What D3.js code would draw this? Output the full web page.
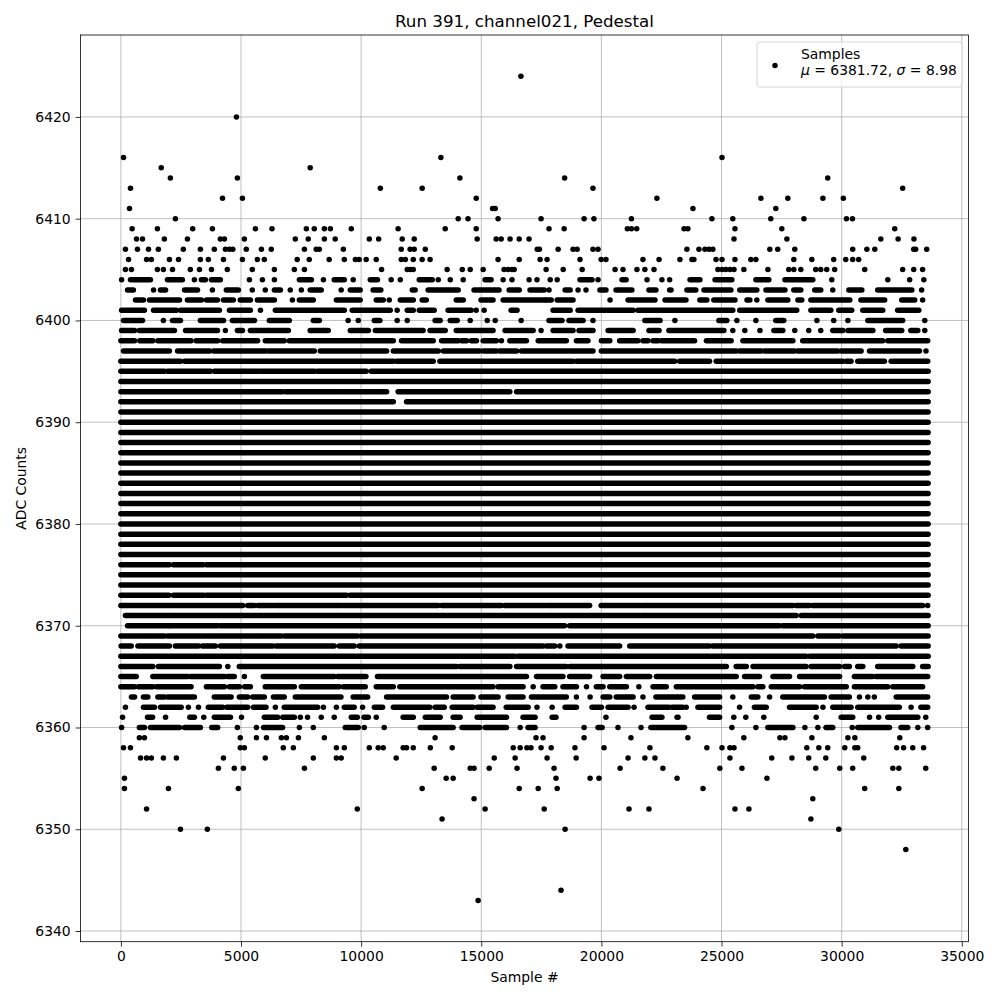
<!DOCTYPE html>
<html>
<head>
<meta charset="utf-8">
<script src="https://cdn.jsdelivr.net/npm/d3@7"></script>
<style>
  body { margin: 0; background: #fff; }
  svg { font-family: "DejaVu Sans", sans-serif; }
</style>
</head>
<body>
<div id="chart"></div>
<script>
// ---- data (sample index in thousands, ADC counts) ----
var nSamples = 33.6;
var title = "Run 391, channel021, Pedestal";
var xTicks = [0, 5000, 10000, 15000, 20000, 25000, 30000, 35000];
var yTicks = [6340, 6350, 6360, 6370, 6380, 6390, 6400, 6410, 6420];
var stats = {mu: "6381.72", sigma: "8.98"};

// levels that are filled across the whole run
var fullRows = [6375, 6377, 6378, 6379, 6380, 6381, 6382, 6383, 6384, 6385, 6386, 6387, 6388, 6389, 6390, 6391, 6394];

// levels that are mostly filled but broken up: [adc, [[from, to], ...]]
var brokenRows = [
  [6404, [[0.03,0.03],[0.40,1.23],[1.94,2.56],[3.06,3.06],[3.35,3.52],[3.77,4.14],[5.35,5.35],[5.89,5.89],[6.39,6.39],[7.43,7.93],[8.43,8.43],[8.88,9.30],[9.67,9.67],[10.38,10.68],[11.25,11.25],[11.63,11.63],[12.42,12.96],[13.21,13.21],[13.71,13.71],[14.25,14.25],[15.16,15.41],[15.91,15.91],[16.28,16.28],[16.99,16.99],[17.32,17.32],[17.87,17.87],[18.16,18.16],[19.11,19.61],[19.86,19.86],[20.86,21.03],[21.90,21.90],[22.52,22.52],[22.84,22.84],[23.69,24.10],[24.73,25.43],[26.43,26.97],[27.64,28.80],[29.59,29.59],[31.92,31.92],[32.83,32.83],[33.42,33.42]]],
  [6403, [[0.28,0.52],[1.36,1.36],[1.65,1.86],[2.65,3.19],[3.81,3.81],[4.39,4.89],[5.47,5.47],[6.01,6.01],[6.39,6.64],[7.05,7.05],[7.51,7.51],[7.88,8.34],[9.17,9.17],[9.55,9.96],[10.50,10.82],[12.13,12.25],[12.79,14.04],[14.70,15.74],[16.16,16.58],[17.03,17.62],[17.82,17.82],[18.49,18.70],[19.03,19.03],[19.36,19.36],[19.94,20.19],[20.61,21.27],[21.98,22.27],[22.84,22.90],[23.56,23.93],[24.27,25.39],[25.76,26.47],[26.85,27.64],[28.01,28.30],[28.88,29.13],[29.63,29.63],[30.30,30.84],[31.50,32.92],[33.33,33.33]]],
  [6402, [[0.61,0.94],[1.19,2.44],[2.77,3.35],[3.56,4.02],[4.27,4.68],[4.97,5.39],[5.68,6.39],[7.14,7.14],[7.43,8.01],[8.97,9.96],[10.63,10.92],[11.17,11.17],[11.63,12.17],[12.54,12.71],[13.96,14.25],[14.99,15.49],[15.91,17.66],[17.70,17.91],[18.16,18.82],[20.36,20.36],[21.11,22.23],[22.65,23.52],[24.10,24.39],[24.68,25.56],[26.06,26.18],[26.47,26.47],[26.93,27.76],[28.18,28.34],[28.72,30.34],[30.80,31.79],[32.50,33.04],[33.37,33.37]]],
  [6401, [[0.03,0.98],[1.36,2.31],[2.48,4.10],[4.52,5.39],[5.81,5.81],[6.43,8.17],[8.26,9.30],[9.63,11.21],[11.50,11.50],[11.92,12.17],[12.42,13.04],[13.62,14.58],[14.79,14.79],[15.12,15.12],[16.24,16.49],[17.99,18.70],[19.03,20.19],[20.28,21.32],[21.52,25.47],[25.76,28.13],[28.72,29.55],[29.88,30.42],[30.88,31.71],[32.33,33.21]]],
  [6400, [[0.11,0.90],[1.77,1.77],[2.15,2.48],[3.31,4.27],[4.64,5.56],[6.18,7.01],[8.01,8.26],[9.46,9.46],[9.88,9.88],[10.55,10.78],[11.50,11.50],[11.92,11.92],[13.08,13.29],[13.71,14.00],[14.54,14.54],[15.25,15.25],[15.58,15.58],[16.66,16.66],[17.82,18.36],[18.65,19.24],[19.65,19.65],[21.81,22.44],[23.06,23.06],[24.89,25.22],[25.64,25.64],[26.43,26.43],[27.26,27.59],[28.97,28.97],[29.67,29.67],[30.26,30.26],[31.09,32.54],[33.46,33.46]]],
  [6399, [[0.03,0.57],[0.77,2.23],[2.69,4.02],[4.35,4.35],[4.85,5.06],[5.39,6.97],[7.88,8.63],[9.55,10.30],[10.59,12.58],[12.87,13.50],[13.96,15.49],[15.99,17.16],[17.49,17.49],[17.99,18.82],[19.07,19.65],[20.28,21.32],[21.98,22.40],[22.81,25.10],[25.47,25.47],[25.97,25.97],[26.60,26.60],[27.18,27.55],[28.05,28.05],[28.63,28.63],[29.13,29.13],[29.63,30.05],[30.26,31.30],[31.83,32.50],[32.88,33.17],[33.46,33.46]]],
  [6398, [[0.0,0.57],[0.79,1.33],[1.54,2.92],[3.13,4.03],[4.24,5.69],[6.01,6.80],[7.01,9.02],[9.09,11.34],[11.68,13.00],[13.35,14.04],[14.18,14.39],[14.59,14.80],[15.08,15.63],[15.84,15.84],[16.19,16.88],[17.37,18.54],[18.96,19.44],[20.00,20.35],[20.76,21.52],[21.73,21.94],[22.15,22.36],[22.50,23.88],[24.37,25.40],[25.89,27.97],[28.38,31.71],[31.92,33.58]]],
  [6397, [[0.11,2.02],[2.36,3.69],[3.85,6.03],[6.15,8.05],[8.30,11.06],[11.34,13.21],[13.42,14.94],[15.08,15.63],[15.77,16.47],[16.67,19.65],[20.00,25.61],[25.75,26.65],[26.79,28.04],[28.18,29.84],[29.98,30.81],[31.16,33.24],[33.51,33.51]]],
  [6396, [[0.0,2.48],[2.65,4.56],[4.64,10.13],[10.21,11.34],[11.48,13.00],[13.28,18.82],[18.96,23.05],[23.26,24.50],[24.78,30.05],[30.19,30.39],[30.67,31.78],[32.06,33.58]]],
  [6395, [[0.0,1.81],[1.94,3.73],[3.89,5.76],[5.85,8.05],[8.17,10.21],[10.42,33.6]]],
  [6393, [[0.0,6.72],[6.84,9.05],[9.13,10.30],[10.38,11.06],[11.54,16.19],[16.47,33.6]]],
  [6392, [[0.0,0.30],[0.38,11.34],[11.89,33.6]]],
  [6376, [[0.0,2.02],[2.19,3.43],[3.56,33.6]]],
  [6374, [[0.0,4.14],[4.22,33.6]]],
  [6373, [[0.0,2.00],[2.19,3.45],[3.56,9.39],[9.54,33.6]]],
  [6372, [[0,0.50],[0.57,2.16],[2.23,5.07],[5.28,5.56],[5.70,6.32],[6.39,9.16],[9.23,13.21],[13.35,15.84],[15.98,17.64],[17.71,19.51],[19.99,21.59],[21.66,27.97],[28.11,28.66],[28.80,33.37],[33.58,33.58]]],
  [6371, [[0.19,28.11],[28.32,33.6]]],
  [6370, [[0.28,2.02],[2.06,4.03],[4.14,9.23],[9.30,14.73],[14.80,18.47],[18.68,25.75],[25.82,27.41],[27.55,33.6]]],
  [6369, [[0,1.00],[1.07,1.81],[1.94,3.52],[3.62,5.69],[5.76,6.67],[6.80,9.85],[9.99,28.80],[29.01,29.91],[30.05,33.6]]],
  [6368, [[0.01,0.43],[0.71,2.02],[2.27,3.23],[3.39,3.93],[4.14,6.32],[6.46,8.88],[9.09,9.71],[9.92,17.57],[17.71,18.06],[18.27,18.27],[18.61,20.76],[21.18,24.50],[24.64,32.27],[32.47,33.6]]],
  [6367, [[0,16.40],[16.53,28.52],[28.66,33.6]]],
  [6366, [[0,1.33],[1.56,4.10],[4.45,4.45],[4.93,13.97],[14.11,16.19],[16.47,18.54],[18.68,25.20],[25.61,26.03],[26.31,28.52],[28.73,29.91],[30.12,30.32],[30.67,30.88],[31.50,32.96],[33.37,33.6]]],
  [6365, [[0,0.64],[1.33,2.78],[2.90,4.31],[4.45,4.72],[5.14,5.14],[5.93,8.88],[9.02,10.20],[10.68,16.88],[17.30,18.40],[18.68,19.51],[20.07,20.76],[21.04,22.01],[22.29,25.61],[25.96,26.58],[27.14,27.83],[28.25,29.91],[30.53,31.29],[31.43,33.58]]],
  [6364, [[0,0.57],[0.73,1.33],[1.48,2.92],[3.56,4.31],[4.52,4.93],[5.15,5.39],[6.01,7.22],[7.51,9.09],[9.26,10.17],[10.63,11.34],[11.61,15.49],[15.70,16.74],[17.16,17.16],[17.57,18.06],[18.40,18.96],[19.38,19.38],[19.79,20.07],[20.35,21.04],[21.56,21.56],[22.15,22.70],[23.12,26.31],[26.51,26.72],[27.07,28.25],[28.45,30.19],[30.53,31.92],[32.13,33.37]]],
  [6363, [[0.44,0.57],[0.94,1.12],[1.54,1.81],[1.95,3.06],[3.89,4.59],[4.93,5.28],[5.49,5.97],[6.35,6.80],[7.26,9.16],[9.67,10.27],[11.06,13.55],[13.83,14.66],[14.99,15.70],[16.12,16.74],[17.09,18.54],[18.96,18.96],[19.53,19.53],[20.07,20.35],[20.62,21.32],[21.73,21.73],[22.27,23.39],[23.88,24.92],[25.47,25.47],[26.24,26.51],[27.00,27.00],[27.55,29.28],[29.56,30.32],[30.74,30.74],[31.09,31.09],[31.36,31.36],[32.27,33.58]]],
  [6362, [[0.19,0.19],[0.94,1.40],[1.65,2.51],[2.81,2.81],[3.23,3.23],[3.64,4.24],[4.41,5.28],[5.52,6.04],[6.43,6.43],[6.80,8.19],[8.43,8.43],[8.97,8.97],[9.30,9.71],[10.06,10.06],[10.55,10.89],[11.34,12.86],[13.08,13.46],[13.79,14.66],[14.83,15.49],[16.04,16.95],[17.32,17.32],[17.95,17.95],[18.49,18.96],[19.61,20.00],[20.28,21.11],[21.36,21.36],[21.94,22.81],[22.94,23.39],[23.53,23.53],[24.02,24.92],[25.75,25.75],[26.37,26.86],[27.83,28.94],[29.22,29.22],[29.63,30.39],[30.67,32.40],[32.89,32.89],[33.30,33.58]]],
  [6361, [[0.07,0.07],[1.11,1.32],[1.86,1.86],[2.87,3.06],[3.45,3.45],[3.89,4.56],[5.02,5.02],[5.97,6.53],[6.74,7.22],[7.47,7.47],[7.77,7.77],[8.34,8.34],[8.88,8.88],[9.59,9.84],[10.12,10.30],[10.63,10.63],[11.75,12.17],[12.67,13.29],[13.83,14.12],[14.83,16.05],[16.74,17.24],[17.95,18.11],[20.19,20.19],[22.11,22.52],[23.15,23.19],[24.50,24.92],[25.51,25.51],[26.01,26.01],[26.76,26.76],[28.94,28.94],[29.98,30.46],[31.16,31.16],[31.54,31.54],[31.92,33.17],[33.50,33.50]]],
  [6360, [[0.03,0.03],[0.77,0.98],[1.23,2.44],[2.65,3.31],[3.78,4.03],[4.85,4.85],[5.64,5.64],[5.94,6.73],[7.43,7.43],[8.01,8.01],[9.34,9.88],[10.13,10.13],[10.96,10.96],[12.46,13.83],[14.20,14.94],[15.16,16.05],[16.62,16.62],[16.95,17.24],[19.28,19.28],[19.86,20.03],[20.69,20.69],[21.65,21.65],[22.06,23.46],[25.43,25.43],[26.43,26.43],[26.93,27.97],[28.47,28.47],[29.01,29.01],[29.35,29.63],[30.44,30.44],[30.67,31.99],[32.47,32.75],[33.17,33.17],[33.58,33.58]]]
];

// sparse levels: [adc, [sample, ...]]
var sparseRows = [
  [6424, [16.65]],
  [6420, [4.81]],
  [6416, [0.11, 13.32, 25.02]],
  [6415, [1.68, 7.88]],
  [6414, [2.06, 4.85, 14.11, 18.47, 29.42]],
  [6413, [0.40, 10.80, 12.54, 19.65, 32.54]],
  [6412, [4.23, 5.06, 14.79, 22.31, 26.64, 27.76, 29.22, 30.07]],
  [6411, [0.36, 15.47, 15.58, 23.81, 27.26]],
  [6410, [2.27, 14.04, 14.45, 15.70, 17.49, 19.28, 19.69, 21.25, 24.60, 25.47, 27.05, 28.43, 30.20, 30.45]],
  [6409, [0.47, 1.52, 2.99, 3.81, 5.60, 6.29, 7.72, 8.05, 8.47, 8.72, 9.59, 11.54, 13.50, 14.79, 17.82, 18.45, 21.08, 21.25, 21.47, 23.44, 23.60, 25.56, 27.51, 32.21]],
  [6408, [0.65, 0.90, 1.81, 2.77, 4.14, 4.31, 5.14, 7.26, 7.80, 8.47, 8.92, 10.34, 10.73, 11.71, 12.21, 14.83, 15.62, 15.83, 16.20, 16.58, 16.99, 25.52, 27.72, 31.63, 32.35, 33.01]],
  [6407, [0.19, 0.69, 1.15, 1.56, 2.60, 3.31, 3.89, 4.35, 4.52, 4.66, 5.22, 5.85, 6.26, 7.64, 8.13, 8.26, 9.26, 11.67, 12.04, 12.21, 12.67, 17.33, 17.42, 18.20, 18.82, 18.99, 19.65, 19.86, 23.56, 24.06, 24.31, 24.48, 24.64, 27.01, 27.34, 28.05, 30.46, 31.05, 31.38, 33.00, 33.08, 33.54]],
  [6406, [0.32, 1.07, 1.27, 2.02, 2.40, 3.31, 3.64, 4.27, 5.06, 5.68, 5.97, 7.34, 7.84, 8.67, 9.30, 9.76, 9.92, 10.21, 10.63, 11.67, 11.84, 12.17, 12.54, 12.87, 15.70, 16.58, 17.45, 17.74, 19.11, 19.99, 20.19, 21.73, 22.40, 23.27, 23.77, 23.85, 24.77, 25.02, 25.56, 26.22, 26.43, 28.01, 28.76, 29.67, 30.17, 30.46, 30.71]],
  [6405, [0.19, 0.44, 1.52, 1.77, 2.15, 2.89, 3.27, 3.77, 4.43, 5.47, 6.39, 7.22, 7.64, 10.85, 11.92, 12.04, 12.17, 13.58, 14.21, 14.54, 15.08, 15.95, 16.12, 16.28, 16.37, 17.70, 18.41, 19.20, 20.57, 20.90, 21.48, 21.81, 22.19, 24.85, 25.02, 25.18, 25.35, 25.52, 25.93, 26.93, 27.80, 28.01, 28.30, 28.92, 29.13, 29.38, 29.71, 30.96, 32.54, 33.00, 33.37]],
  [6359, [0.77, 0.98, 4.97, 5.64, 6.06, 6.68, 6.89, 7.39, 8.47, 13.08, 17.28, 17.57, 19.28, 21.23, 23.60, 25.93, 27.43, 27.64, 28.76, 30.26, 30.55, 32.42]],
  [6358, [0.11, 0.40, 4.97, 5.14, 6.76, 7.18, 8.97, 9.30, 10.34, 10.71, 10.92, 11.75, 11.89, 12.17, 12.88, 13.79, 16.33, 16.62, 16.90, 17.07, 17.49, 17.91, 18.90, 20.11, 22.02, 24.39, 25.02, 25.35, 25.52, 28.55, 29.05, 29.42, 30.13, 30.55, 30.67, 32.29, 32.58, 32.96, 33.41]],
  [6357, [0.82, 1.07, 1.27, 1.77, 2.31, 4.27, 6.01, 8.01, 8.97, 9.17, 11.46, 15.54, 16.41, 17.74, 18.95, 21.11, 21.81, 22.23, 25.35, 27.09, 27.93, 28.63, 29.34, 30.92]],
  [6356, [4.06, 4.72, 5.10, 7.64, 13.04, 14.54, 14.70, 15.33, 16.49, 18.03, 20.78, 22.56, 24.93, 25.85, 28.92, 29.92, 30.46, 32.13, 32.38, 33.50]],
  [6355, [0.15, 13.54, 13.83, 18.11, 19.53, 19.90, 23.15, 26.89]],
  [6354, [0.15, 1.98, 4.89, 12.54, 16.58, 17.37, 18.16, 24.23, 30.96, 32.38]],
  [6353, [14.70, 28.80]],
  [6352, [1.07, 9.84, 15.16, 17.62, 21.15, 21.98, 25.56, 26.14]],
  [6351, [13.37, 28.72]],
  [6350, [2.48, 3.60, 18.49, 29.88]],
  [6348, [32.67]],
  [6344, [18.32]],
  [6343, [14.87]]
];

// ---- layout ----
var W = 1000, H = 1000;
var plotL = 80.5, plotR = 968.5, plotT = 35, plotB = 941.7;
var r = 2.75; // '.' marker incl. its edge

var x = d3.scaleLinear().domain([-1680, 35280]).range([plotL, plotR]);
var y = d3.scaleLinear().domain([6338.95, 6428.05]).range([plotB, plotT]);

var svg = d3.select("#chart").append("svg")
  .attr("width", W).attr("height", H);

svg.append("rect").attr("width", W).attr("height", H).attr("fill", "#fff");

// grid
var grid = svg.append("g");
grid.selectAll(".gx").data(xTicks).enter().append("line")
  .attr("x1", function(d){return x(d)}).attr("x2", function(d){return x(d)})
  .attr("y1", plotT).attr("y2", plotB)
  .attr("stroke", "#b0b0b0").attr("stroke-width", 0.8);
grid.selectAll(".gy").data(yTicks).enter().append("line")
  .attr("x1", plotL).attr("x2", plotR)
  .attr("y1", function(d){return y(d)}).attr("y2", function(d){return y(d)})
  .attr("stroke", "#b0b0b0").attr("stroke-width", 0.8);

var plot = svg.append("g");

// full rows
plot.selectAll(".full").data(fullRows).enter().append("line")
  .attr("x1", x(0)).attr("x2", x(nSamples * 1000))
  .attr("y1", function(d){return y(d)}).attr("y2", function(d){return y(d)})
  .attr("stroke", "#000").attr("stroke-width", 2 * r).attr("stroke-linecap", "round");

// broken rows
var runs = [];
brokenRows.forEach(function(row){
  row[1].forEach(function(s){ runs.push({adc: row[0], a: s[0] * 1000, b: s[1] * 1000}); });
});
plot.selectAll(".run").data(runs).enter().append("line")
  .attr("x1", function(d){return x(d.a)}).attr("x2", function(d){return x(d.b) + 0.01})
  .attr("y1", function(d){return y(d.adc)}).attr("y2", function(d){return y(d.adc)})
  .attr("stroke", "#000").attr("stroke-width", 2 * r).attr("stroke-linecap", "round");

// sparse points
var pts = [];
sparseRows.forEach(function(row){
  row[1].forEach(function(s){ pts.push({adc: row[0], s: s * 1000}); });
});
plot.selectAll("circle").data(pts).enter().append("circle")
  .attr("cx", function(d){return x(d.s)})
  .attr("cy", function(d){return y(d.adc)})
  .attr("r", r).attr("fill", "#000");

// axes
var xAxis = d3.axisBottom(x).tickValues(xTicks).tickSize(4.9).tickPadding(4.9).tickFormat(d3.format("d"));
var yAxis = d3.axisLeft(y).tickValues(yTicks).tickSize(4.9).tickPadding(4.9).tickFormat(d3.format("d"));

var gx = svg.append("g").attr("transform", "translate(0," + plotB + ")").call(xAxis);
var gy = svg.append("g").attr("transform", "translate(" + plotL + ",0)").call(yAxis);
[gx, gy].forEach(function(g){
  g.select(".domain").remove();
  g.selectAll("line").attr("stroke", "#000").attr("stroke-width", 0.8);
  g.selectAll("text").attr("fill", "#000").style("font-size", "13.9px").style("font-family", "DejaVu Sans");
});

// spines
svg.append("rect")
  .attr("x", plotL).attr("y", plotT).attr("width", plotR - plotL).attr("height", plotB - plotT)
  .attr("fill", "none").attr("stroke", "#000").attr("stroke-width", 0.8);

// labels
svg.append("text").attr("x", (plotL + plotR) / 2).attr("y", 27)
  .attr("text-anchor", "middle").style("font-size", "16.7px").text(title);
svg.append("text").attr("x", (plotL + plotR) / 2).attr("y", 982)
  .attr("text-anchor", "middle").style("font-size", "13.9px").text("Sample #");
svg.append("text").attr("transform", "translate(26," + ((plotT + plotB) / 2) + ") rotate(-90)")
  .attr("text-anchor", "middle").style("font-size", "13.9px").text("ADC Counts");

// legend
var lg = svg.append("g");
lg.append("rect").attr("x", 757).attr("y", 42).attr("width", 205).attr("height", 45)
  .attr("rx", 3).attr("fill", "#fff").attr("fill-opacity", 0.8)
  .attr("stroke", "#ccc").attr("stroke-width", 0.8);
lg.append("circle").attr("cx", 775).attr("cy", 65.5).attr("r", r).attr("fill", "#000");
lg.append("text").attr("x", 801).attr("y", 59).style("font-size", "13.9px").text("Samples");
var t2 = lg.append("text").attr("x", 801).attr("y", 75).style("font-size", "13.9px");
t2.append("tspan").style("font-style", "italic").text("\u03bc");
t2.append("tspan").text(" = " + stats.mu + ", ");
t2.append("tspan").style("font-style", "italic").text("\u03c3");
t2.append("tspan").text(" = " + stats.sigma);
</script>
</body>
</html>
